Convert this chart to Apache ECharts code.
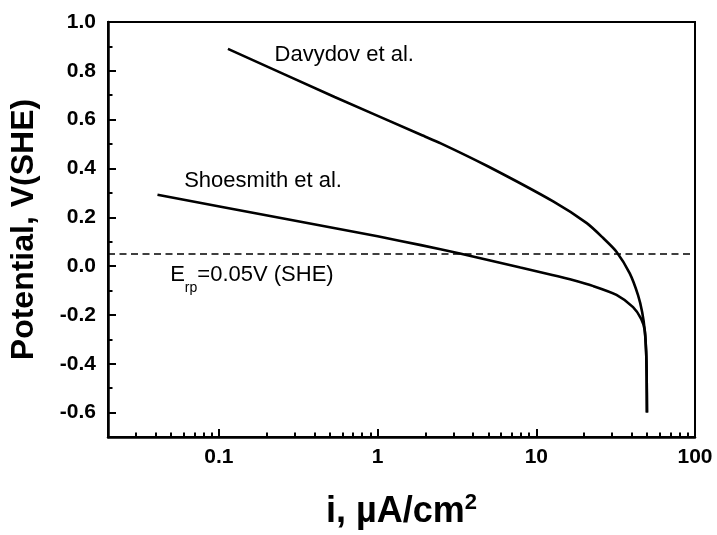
<!DOCTYPE html>
<html>
<head>
<meta charset="utf-8">
<script src="https://cdn.jsdelivr.net/npm/echarts@6/dist/echarts.min.js"></script>
<style>
  html, body { margin: 0; padding: 0; background: #fff; }
  #chart { width: 717px; height: 535px; }
</style>
</head>
<body>
<div id="chart"></div>
<script>
// Current density (µA/cm²) and potential (V vs SHE) for each polarization curve
const davydovI = [0.114, 0.536, 1.875, 2.5, 4.91, 12.85, 20.8, 26.3, 32.0, 38.8, 43.8, 46.5, 48.2, 49.2, 49.6, 49.8];
const davydovE = [0.89, 0.693, 0.538, 0.503, 0.41, 0.264, 0.176, 0.116, 0.059, -0.03, -0.12, -0.19, -0.262, -0.35, -0.45, -0.6];
const shoesmithI = [0.041, 0.25, 1.0, 1.875, 3.3, 7.94, 12.6, 16.3, 22.9, 32.0, 40.7, 45.8, 48.2, 49.2, 49.6, 49.8];
const shoesmithE = [0.292, 0.196, 0.122, 0.086, 0.052, -0.006, -0.036, -0.054, -0.082, -0.118, -0.168, -0.216, -0.262, -0.35, -0.45, -0.6];
const erp = 0.05;

// Axis ticks
const xMajorTicks = [0.1, 1, 10, 100];
const xMinorTicks = [0.02, 0.03, 0.04, 0.05, 0.06, 0.07, 0.08, 0.09,
                     0.2, 0.3, 0.4, 0.5, 0.6, 0.7, 0.8, 0.9,
                     2, 3, 4, 5, 6, 7, 8, 9,
                     20, 30, 40, 50, 60, 70, 80, 90];
const yMajorTicks = [-0.6, -0.4, -0.2, 0.0, 0.2, 0.4, 0.6, 0.8, 1.0];
const yMinorTicks = [-0.5, -0.3, -0.1, 0.1, 0.3, 0.5, 0.7, 0.9];

const FONT = '"Liberation Sans", Arial, Helvetica, sans-serif';
const pairs = (xs, ys) => xs.map((x, i) => [x, ys[i]]);

const chart = echarts.init(document.getElementById('chart'), null, { renderer: 'canvas' });

const lineStyle = { color: '#000', width: 2.6 };

chart.setOption({
  animation: false,
  backgroundColor: '#fff',
  grid: {
    left: 106, right: 22, top: 22, bottom: 95,
    show: true, borderColor: '#000', borderWidth: 2, backgroundColor: 'transparent'
  },
  xAxis: [
    {
      type: 'log', logBase: 10, min: 0.02, max: 100,
      position: 'bottom',
      axisLine: { show: true, onZero: false, lineStyle: { color: '#000', width: 2.5 } },
      axisTick: { show: true, inside: true, length: 8, customValues: xMajorTicks, lineStyle: { color: '#000', width: 2 } },
      axisLabel: {
        show: true, customValues: xMajorTicks, margin: 10,
        color: '#000', fontFamily: FONT, fontWeight: 'bold', fontSize: 21,
        formatter: v => String(v)
      },
      splitLine: { show: false },
      minorTick: { show: false },
      name: '{a|i, µA/cm}{s|2}',
      nameLocation: 'middle', nameGap: 55,
      nameTextStyle: {
        rich: {
          a: { fontFamily: FONT, fontWeight: 'bold', fontSize: 36, lineHeight: 40, color: '#000' },
          s: { fontFamily: FONT, fontWeight: 'bold', fontSize: 22, lineHeight: 22, color: '#000', verticalAlign: 'top' }
        }
      }
    },
    {
      type: 'log', logBase: 10, min: 0.02, max: 100,
      position: 'bottom',
      axisLine: { show: false, onZero: false },
      axisTick: { show: true, inside: true, length: 4.5, customValues: xMinorTicks, lineStyle: { color: '#000', width: 2 } },
      axisLabel: { show: false },
      splitLine: { show: false }
    }
  ],
  yAxis: [
    {
      type: 'value', min: -0.7, max: 1.0,
      position: 'left',
      axisLine: { show: true, onZero: false, lineStyle: { color: '#000', width: 2.5 } },
      axisTick: { show: true, inside: true, length: 8, customValues: yMajorTicks, lineStyle: { color: '#000', width: 2 } },
      axisLabel: {
        show: true, customValues: yMajorTicks, margin: 12,
        color: '#000', fontFamily: FONT, fontWeight: 'bold', fontSize: 21,
        formatter: v => (Math.abs(v) < 1e-9 ? 0 : v).toFixed(1)
      },
      splitLine: { show: false },
      name: 'Potential, V(SHE)',
      nameLocation: 'middle', nameGap: 68,
      nameTextStyle: { fontFamily: FONT, fontWeight: 'bold', fontSize: 32, color: '#000' }
    },
    {
      type: 'value', min: -0.7, max: 1.0,
      position: 'left',
      axisLine: { show: false, onZero: false },
      axisTick: { show: true, inside: true, length: 4.5, customValues: yMinorTicks, lineStyle: { color: '#000', width: 2 } },
      axisLabel: { show: false },
      splitLine: { show: false }
    }
  ],
  series: [
    {
      name: 'Davydov et al.',
      type: 'line', xAxisIndex: 0, yAxisIndex: 0,
      data: pairs(davydovI, davydovE),
      showSymbol: false, smooth: 0.25,
      lineStyle: lineStyle,
      markPoint: {
        symbol: 'circle', symbolSize: 0,
        label: {
          show: true, position: 'right', distance: 0,
          color: '#000', fontFamily: FONT, fontSize: 22,
          formatter: 'Davydov et al.'
        },
        data: [{ coord: [0.224, 0.866] }]
      },
      markLine: {
        silent: true, symbol: ['none', 'none'],
        lineStyle: { color: '#000', width: 1.5, type: [7, 4.5] },
        label: { show: false },
        data: [{ yAxis: erp }]
      }
    },
    {
      name: 'Shoesmith et al.',
      type: 'line', xAxisIndex: 0, yAxisIndex: 0,
      data: pairs(shoesmithI, shoesmithE),
      showSymbol: false, smooth: 0.25,
      lineStyle: lineStyle,
      markPoint: {
        symbol: 'circle', symbolSize: 0,
        label: {
          show: true, position: 'right', distance: 0,
          color: '#000', fontFamily: FONT, fontSize: 22,
          formatter: 'Shoesmith et al.'
        },
        data: [
          { coord: [0.0604, 0.349] },
          {
            coord: [0.0493, -0.056],
            label: {
              formatter: '{e|E}{sub|rp}{e|=' + erp.toFixed(2) + 'V (SHE)}',
              rich: {
                e: { fontFamily: FONT, fontSize: 22, lineHeight: 22, color: '#000', verticalAlign: 'top' },
                sub: { fontFamily: FONT, fontSize: 14, lineHeight: 31, color: '#000', verticalAlign: 'bottom' }
              }
            }
          }
        ]
      }
    }
  ]
});
</script>
</body>
</html>
